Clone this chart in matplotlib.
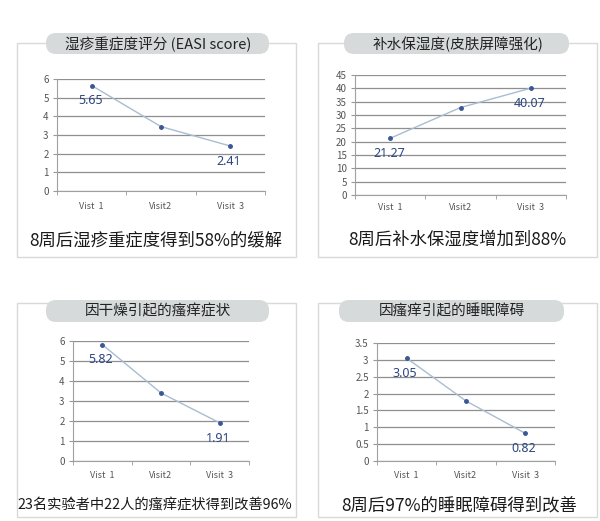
import matplotlib
matplotlib.use("Agg")
import matplotlib.pyplot as plt
from matplotlib.patches import FancyBboxPatch, Rectangle
from matplotlib.ticker import MultipleLocator, FuncFormatter

plt.rcParams['font.family'] = ['Noto Sans CJK SC', 'DejaVu Sans']

# Datos
visits = ['Vist  1', 'Visit2', 'Visit  3']
eczema_score = [5.65, 3.45, 2.41]
moisture = [21.27, 32.8, 40.07]
itch_dry = [5.82, 3.4, 1.91]
sleep_itch = [3.05, 1.78, 0.82]

titles = ['湿疹重症度评分 (EASI score)', '补水保湿度(皮肤屏障强化)',
          '因干燥引起的瘙痒症状', '因瘙痒引起的睡眠障碍']
captions = ['8周后湿疹重症度得到58%的缓解', '8周后补水保湿度增加到88%',
            '23名实验者中22人的瘙痒症状得到改善96%', '8周后97%的睡眠障碍得到改善']
y_max = [6, 45, 6, 3.5]
y_step = [1, 5, 1, 0.5]

W, H = 600, 521
line_color = '#a9bdd2'
dot_color = '#3b5794'
label_color = '#2c4582'
grid_color = '#8f8f8f'
tick_color = '#555555'

# Layout en pixeles: (ejes: izq, arriba, der, abajo), marco, pastilla, titulo, pie
layout = [
    dict(ax=(57, 79, 265, 191), frame=(17, 43, 296, 257), pill=(46, 33, 269, 54),
         title=(158, 44), cap=(156, 240), cap_size=12.5, xlab_pad=8),
    dict(ax=(355, 75, 566, 195), frame=(318, 43, 597, 257), pill=(344, 33, 569, 54),
         title=(458, 44), cap=(457, 240), cap_size=12.5, xlab_pad=6),
    dict(ax=(73, 341, 249, 461), frame=(17, 303, 296, 517), pill=(46, 300, 269, 322),
         title=(158, 311), cap=(155, 505), cap_size=10.3, xlab_pad=7),
    dict(ax=(377, 343, 555, 461), frame=(318, 303, 597, 517), pill=(339, 300, 564, 322),
         title=(452, 311), cap=(459, 505), cap_size=12.5, xlab_pad=7),
]
series = [eczema_score, moisture, itch_dry, sleep_itch]

fig = plt.figure(figsize=(W / 100, H / 100), dpi=100)
fig.patch.set_facecolor('white')

# Capa de fondo en coordenadas de pixel
bg = fig.add_axes([0, 0, 1, 1])
bg.set_xlim(0, W)
bg.set_ylim(H, 0)
bg.axis('off')

for i, lay in enumerate(layout):
    fx0, fy0, fx1, fy1 = lay['frame']
    bg.add_patch(Rectangle((fx0, fy0), fx1 - fx0, fy1 - fy0, fill=False,
                           edgecolor='#d9d9d9', linewidth=1.0))
    px0, py0, px1, py1 = lay['pill']
    bg.add_patch(FancyBboxPatch((px0, py0), px1 - px0, py1 - py0,
                                boxstyle='round,pad=0,rounding_size=10',
                                facecolor='#d6dadb', edgecolor='none'))
    bg.text(lay['title'][0], lay['title'][1], titles[i], fontsize=10.5,
            color='#222222', ha='center', va='center')
    bg.text(lay['cap'][0], lay['cap'][1], captions[i], fontsize=lay['cap_size'],
            color='#1a1a1a', ha='center', va='center')

    ax0, ay0, ax1, ay1 = lay['ax']
    ax = fig.add_axes([ax0 / W, 1 - ay1 / H, (ax1 - ax0) / W, (ay1 - ay0) / H])
    ax.set_facecolor('none')
    vals = series[i]
    xs = list(range(len(visits)))
    ax.plot(xs, vals, color=line_color, linewidth=1.0, zorder=3)
    ax.plot(xs, vals, 'o', color=dot_color, markersize=2.5, zorder=4)
    for x, v in zip(xs, vals):
        if x == 1:
            continue
        ax.annotate(f'{v:.2f}', (x, v), xytext=(-1, -11), textcoords='offset points',
                    ha='center', va='center', fontsize=9, color=label_color,
                    family=['Noto Sans'], zorder=5)

    ax.set_xlim(-0.5, len(visits) - 0.5)
    ax.set_ylim(0, y_max[i])
    ax.yaxis.set_major_locator(MultipleLocator(y_step[i]))
    ax.yaxis.set_major_formatter(FuncFormatter(lambda v, p: f'{v:g}'))
    ax.set_xticks(xs)
    ax.set_xticklabels(visits)
    ax.set_xticks([-0.5, 0.5, 1.5, 2.5], minor=True)
    ax.tick_params(axis='x', which='major', length=0, pad=lay['xlab_pad'],
                   labelsize=6.5, labelcolor=tick_color)
    ax.tick_params(axis='x', which='minor', length=3, color='#999999', direction='out')
    ax.tick_params(axis='y', length=3, color='#999999', labelsize=7,
                   labelcolor=tick_color, pad=3)
    ax.grid(axis='y', color=grid_color, linewidth=0.9)
    ax.set_axisbelow(True)
    for s in ['top', 'right']:
        ax.spines[s].set_visible(False)
    ax.spines['left'].set_color('#a0a0a0')
    ax.spines['bottom'].set_color('#a0a0a0')
    ax.spines['left'].set_linewidth(0.8)
    ax.spines['bottom'].set_linewidth(0.8)

fig.savefig('out.png', dpi=100)
